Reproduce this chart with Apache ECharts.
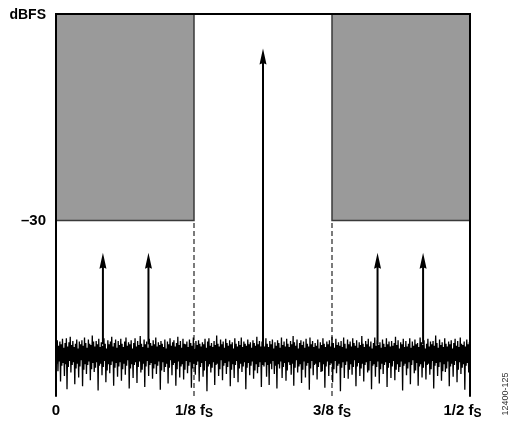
<!DOCTYPE html>
<html><head><meta charset="utf-8">
<script src="https://cdn.jsdelivr.net/npm/echarts@6/dist/echarts.min.js"></script>
<style>html,body{margin:0;padding:0;background:#fff}#c{width:519px;height:428px}</style>
</head><body><div id="c"></div>
<script>
// x axis: 0 .. 3 units, ticks at 0, 1/8 fs, 3/8 fs, 1/2 fs
const tickLabels = ['0', '1/8 f', '3/8 f', '1/2 f'];
const tickSubs = ['', 'S', 'S', 'S'];
const yTopLabel = 'dBFS';
const yMarkLabel = '\u201330';
const maskBands = [[0, 1], [2, 3]];
const maskLevel = -30;
const dashX = [1, 2];
const toneX = [0.34, 0.67, 1.5, 2.33, 2.66];
const toneTop = [-34.7, -34.7, -5, -34.7, -34.7];
const toneBase = -48;
const yMin = -55.5, yMax = 0;
const noise = [
-47.9,-50.8,-47.4,-51.9,-48.2,-50.5,-47.6,-53.4,-48.0,-51.1,-47.2,-50.7,-48.5,-52.6,-47.8,-50.9,-47.1,-54.5,-48.3,-51.3,
-47.7,-50.4,-46.9,-52.1,-48.1,-51.0,-47.5,-50.6,-48.4,-53.8,-47.9,-51.5,-47.3,-50.8,-48.6,-52.8,-47.6,-51.2,-48.0,-50.3,
-47.4,-54.1,-48.2,-51.7,-47.0,-50.9,-47.8,-52.3,-48.5,-51.0,-47.3,-50.5,-47.9,-53.2,-48.1,-51.6,-46.7,-50.7,-47.6,-52.0,
-48.3,-51.4,-47.5,-50.6,-48.0,-54.7,-47.2,-51.1,-48.4,-50.8,-47.7,-52.5,-48.2,-51.3,-47.1,-50.4,-47.9,-53.5,-48.6,-51.8,
-47.4,-50.9,-48.0,-52.2,-47.6,-51.0,-46.9,-50.5,-48.3,-54.0,-47.8,-51.4,-47.3,-50.7,-48.5,-52.7,-47.5,-51.2,-48.1,-50.6,
-47.2,-53.3,-47.9,-51.6,-48.4,-50.8,-47.6,-52.4,-47.0,-51.1,-48.2,-50.3,-47.7,-54.4,-48.0,-51.5,-47.4,-50.9,-48.6,-52.9,
-47.8,-51.0,-47.1,-50.6,-48.3,-53.6,-47.5,-51.3,-48.1,-50.5,-46.8,-52.1,-47.9,-51.7,-48.4,-50.8,-47.3,-54.2,-48.0,-51.2,
-47.6,-50.4,-48.5,-52.6,-47.2,-51.0,-47.8,-50.7,-48.2,-53.0,-47.4,-51.5,-48.0,-50.9,-47.0,-52.3,-48.3,-51.1,-47.7,-50.5,
-48.1,-54.6,-47.5,-51.8,-47.9,-50.6,-48.4,-52.0,-47.3,-51.3,-48.6,-50.8,-47.6,-53.7,-48.0,-51.4,-47.1,-50.3,-48.2,-52.5,
-47.7,-51.0,-47.4,-50.7,-48.3,-54.0,-47.8,-51.6,-46.9,-50.5,-48.1,-52.8,-47.5,-51.2,-48.5,-50.9,-47.2,-53.1,-47.9,-51.7,
-48.0,-50.4,-47.6,-52.2,-48.4,-51.1,-47.3,-50.6,-47.8,-54.3,-48.2,-51.5,-47.0,-50.8,-48.6,-52.4,-47.5,-51.0,-48.1,-50.5,
-47.4,-53.4,-47.9,-51.3,-48.3,-50.7,-47.7,-52.7,-48.0,-51.8,-47.2,-50.4,-48.5,-54.8,-47.6,-51.2,-47.1,-50.9,-48.2,-52.1,
-47.8,-51.4,-48.4,-50.6,-47.5,-53.9,-48.1,-51.0,-46.7,-50.8,-47.9,-52.6,-48.3,-51.6,-47.3,-50.3,-48.0,-53.2,-47.6,-51.1,
-48.5,-50.7,-47.2,-52.3,-47.8,-51.3,-48.2,-50.5,-47.4,-54.1,-48.0,-51.7,-47.7,-50.9,-48.6,-52.9,-47.1,-51.0,-47.9,-50.4,
-48.3,-53.5,-47.5,-51.5,-48.1,-50.8,-47.0,-52.0,-48.4,-51.2,-47.6,-50.6,-47.9,-54.5,-48.2,-51.4,-47.3,-50.7,-48.0,-52.5,
-47.7,-51.1,-48.5,-50.5,-47.4,-53.0,-47.8,-51.8,-48.2,-50.9,-46.9,-52.2,-48.0,-51.3,-47.5,-50.6,-48.3,-54.2,-47.6,-51.0,
-47.6,-51.2,-48.3,-50.6,-47.1,-52.7,-47.9,-51.0,-48.4,-53.9,-47.5,-50.8,-48.0,-51.6,-47.3,-50.4,-48.6,-52.3,-47.7,-51.1,
-48.2,-54.4,-47.4,-50.9,-47.8,-51.5,-48.5,-50.5,-47.0,-52.9,-48.1,-51.3,-47.6,-50.7,-48.3,-53.3,-47.2,-51.8,-47.9,-50.6,
-48.4,-51.0,-47.5,-52.4,-48.0,-50.8,-46.8,-54.0,-47.7,-51.4,-48.2,-50.3,-47.3,-52.1,-48.6,-51.2,-47.8,-50.9,-47.4,-53.6,
-48.1,-51.7,-47.6,-50.5,-48.5,-52.8,-47.2,-51.1,-47.9,-50.7,-48.3,-54.6,-47.0,-51.5,-48.0,-50.4,-47.5,-52.5,-48.4,-51.0,
-47.8,-50.8,-48.2,-53.1,-47.3,-51.3,-48.6,-50.6,-47.7,-52.0,-48.1,-51.9,-47.1,-50.9,-47.9,-54.3,-48.4,-51.2,-47.6,-50.5,
-48.0,-52.6,-47.4,-51.0,-48.3,-50.7,-46.9,-53.5,-47.8,-51.6,-48.5,-50.4,-47.2,-52.2,-48.1,-51.1,-47.7,-50.8,-48.2,-54.8,
-47.5,-51.4,-48.4,-50.6,-47.0,-52.9,-47.9,-51.0,-48.6,-50.5,-47.3,-53.0,-48.0,-51.7,-47.6,-50.9,-48.3,-52.4,-47.1,-51.3,
-47.8,-50.3,-48.2,-54.1,-47.4,-51.2,-48.5,-50.7,-47.7,-52.6,-48.1,-51.5,-46.8,-50.8,-47.9,-53.4,-48.4,-51.0,-47.5,-50.6,
-48.0,-52.1,-47.2,-51.8,-48.3,-50.4,-47.6,-54.5,-48.6,-51.1,-47.8,-50.9,-47.0,-52.7,-48.2,-51.3,-47.4,-50.5,-48.1,-53.7,
-47.7,-51.6,-48.5,-50.8,-47.3,-52.3,-47.9,-51.0,-48.4,-50.6,-47.1,-54.2,-48.0,-51.4,-47.6,-50.7,-48.3,-52.9,-47.5,-51.2,
-48.2,-50.4,-47.8,-53.2,-46.9,-51.7,-48.1,-50.9,-47.4,-52.0,-48.6,-51.3,-47.7,-50.5,-48.0,-54.7,-47.2,-51.1,-48.4,-50.8,
-47.5,-52.5,-48.3,-51.5,-47.9,-50.6,-47.1,-53.8,-48.5,-51.0,-47.6,-50.3,-48.2,-52.2,-47.3,-51.8,-48.0,-50.7,-47.8,-54.0,
-48.4,-51.2,-47.0,-50.9,-47.7,-52.8,-48.1,-51.4,-47.4,-50.5,-48.6,-53.1,-47.9,-51.0,-47.2,-50.8,-48.3,-52.4,-47.6,-51.6,
-48.0,-50.4,-47.5,-54.4,-48.2,-51.1,-46.7,-50.7,-47.8,-52.6,-48.5,-51.3,-47.3,-50.6,-48.1,-53.3,-47.7,-51.9,-48.4,-50.9,
-47.1,-52.0,-47.9,-51.5,-48.3,-50.5,-47.6,-54.1,-48.0,-51.2,-47.4,-50.8,-48.6,-52.7,-47.8,-51.0,-47.2,-50.4,-48.2,-53.5,
-47.5,-51.7,-48.4,-50.6,-47.0,-52.3,-47.9,-51.4,-48.1,-50.9,-47.6,-54.6,-48.3,-51.1,-47.3,-50.7,-48.0,-52.1,-47.7,-51.3
];

const chart = echarts.init(document.getElementById('c'), null, {renderer: 'canvas'});
const FONT = 'Liberation Sans';
const lblRich = {
  a: {fontSize: 15, fontWeight: 'bold', fontFamily: FONT, color: '#000', lineHeight: 18, verticalAlign: 'middle'},
  s: {fontSize: 12, fontWeight: 'bold', fontFamily: FONT, color: '#000', lineHeight: 18, verticalAlign: 'bottom'},
  sl: {fontSize: 12, fontWeight: 'bold', fontFamily: FONT, color: '#000', lineHeight: 18, verticalAlign: 'bottom', padding: [0, 15, 0, 0]},
  d: {fontSize: 14, fontWeight: 'bold', fontFamily: FONT, color: '#000', padding: [3, 0, 0, 0]},
  t: {fontSize: 15, fontWeight: 'bold', fontFamily: FONT, color: '#000'}
};
const axisLineStyle = {show: true, lineStyle: {color: '#000', width: 2}};

const series = [];
// mask areas
series.push({
  type: 'line', xAxisIndex: 0, yAxisIndex: 0, data: [], silent: true,
  markArea: {
    silent: true,
    itemStyle: {color: '#9a9a9a', borderColor: '#3a3a3a', borderWidth: 1.5},
    data: maskBands.map(b => [{xAxis: b[0], yAxis: maskLevel}, {xAxis: b[1], yAxis: yMax}])
  }
});
// dashed band edges
dashX.forEach(x => series.push({
  type: 'line', xAxisIndex: 0, yAxisIndex: 0, symbol: 'none', silent: true,
  lineStyle: {color: '#333', width: 1.3, type: [5, 3]},
  data: [[x, yMin], [x, maskLevel]]
}));
// noise
series.push({
  type: 'line', xAxisIndex: 1, yAxisIndex: 0, symbol: 'none', silent: true,
  lineStyle: {color: '#000', width: 1.3}, data: noise, z: 3
});
// tone shafts
toneX.forEach((x, i) => series.push({
  type: 'line', xAxisIndex: 0, yAxisIndex: 0, symbol: 'none', silent: true,
  lineStyle: {color: '#000', width: 2}, data: [[x, toneBase], [x, toneTop[i] - 1.5]], z: 4
}));
// arrowheads
series.push({
  type: 'scatter', xAxisIndex: 0, yAxisIndex: 0, silent: true, z: 5,
  symbol: 'path://M5 0 L10 16 L5 14.5 L0 16 Z', symbolSize: [7, 16], symbolOffset: [0, 8],
  itemStyle: {color: '#000', opacity: 1},
  data: toneX.map((x, i) => [x, toneTop[i]])
});

chart.setOption({
  animation: false,
  grid: {left: 56, top: 14, right: 49, bottom: 32, containLabel: false},
  xAxis: [{
    type: 'value', min: 0, max: 3, interval: 1, position: 'bottom', z: 10,
    axisLine: axisLineStyle, axisTick: {show: false}, splitLine: {show: false},
    axisLabel: {
      margin: 6, rich: lblRich,
      formatter: v => {
        const i = Math.round(v);
        if (!tickSubs[i]) return '{a|' + tickLabels[i] + '}';
        return '{a|' + tickLabels[i] + '}{' + (i === tickLabels.length - 1 ? 'sl' : 's') + '|' + tickSubs[i] + '}';
      }
    }
  }, {
    type: 'category', boundaryGap: false, position: 'top', z: 10,
    data: noise.map((_, i) => i),
    axisLine: axisLineStyle, axisTick: {show: false}, axisLabel: {show: false}, splitLine: {show: false}
  }],
  yAxis: [{
    type: 'value', min: yMin, max: yMax, interval: 0.5, position: 'left', z: 10,
    axisLine: axisLineStyle, axisTick: {show: false}, splitLine: {show: false},
    axisLabel: {
      margin: 10, rich: lblRich, showMinLabel: true, showMaxLabel: true,
      formatter: v => {
        if (Math.abs(v - yMax) < 1e-6) return '{d|' + yTopLabel + '}';
        if (Math.abs(v - maskLevel) < 1e-6) return '{t|' + yMarkLabel + '}';
        return '';
      }
    }
  }, {
    type: 'value', min: yMin, max: yMax, position: 'right', z: 10,
    axisLine: axisLineStyle, axisTick: {show: false}, axisLabel: {show: false}, splitLine: {show: false}
  }],
  graphic: [{
    type: 'text', x: 506, y: 394, rotation: Math.PI / 2, silent: true,
    style: {text: '12400-125', fontSize: 9, fontFamily: FONT, fill: '#333', align: 'center', verticalAlign: 'middle'}
  }],
  series: series
});
</script>
</body></html>
